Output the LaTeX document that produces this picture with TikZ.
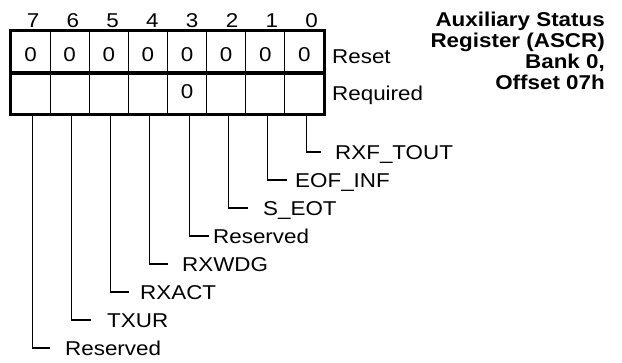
\documentclass[tikz,border=0pt]{standalone}
\usepackage{fontspec}
\setmainfont{Liberation Sans}[FakeStretch=1.12]
\begin{document}
\begin{tikzpicture}[x=1pt,y=-1pt,
  cell/.style={draw, line width=1.2pt, minimum width=39.125pt, minimum height=41.5pt,
    inner sep=0pt, font=\fontsize{20}{24}\selectfont, text depth=0pt},
  lbl/.style={anchor=base west, inner sep=0pt, font=\fontsize{20}{24}\selectfont},
  leader/.style={line width=1.1pt},
  frame/.style={line width=3.6pt},
  titletext/.style={anchor=base east, align=right, inner sep=0pt,
    font=\bfseries\fontsize{20}{20.7}\selectfont}]
\useasboundingbox (0,0) rectangle (622,362);
\foreach \b in {0,...,7} {
  \pgfmathsetmacro\cx{11+39.125*(7.5-\b)}
  \node[cell, text height=20pt] (r\b) at (\cx,51.75) {0};
  \node[cell, text height=10.4pt] (q\b) at (\cx,93.25) {\ifnum\b=3 0\fi};
  \node[lbl, anchor=base] (n\b) at ({33+39.8*(7-\b)},27) {\b};
}
\draw[frame] (r7.north west) rectangle (q0.south east);
\draw[frame] (r7.south west) -- (r0.south east);
\node[lbl] (reset) at (332,63) {Reset};
\node[lbl] (req) at (332,100) {Required};
\foreach \b/\ex/\lx/\t in {0/321/335/RXF\_TOUT, 1/287/295/EOF\_INF, 2/248/263/S\_EOT,
    3/209/213/Reserved, 4/168/182/RXWDG, 5/129/140/RXACT, 6/91/107/TXUR, 7/50/65/Reserved} {
  \coordinate (e\b) at (\ex, {152+28*\b});
  \node[lbl] (t\b) at (\lx, {159+28*\b}) {\t};
  \draw[leader] ([xshift=2pt]q\b.south) |- (e\b);
}
\node[titletext] (title) at (605,89) {Auxiliary Status\\Register (ASCR)\\Bank 0,\\Offset 07h};
\end{tikzpicture}
\end{document}
